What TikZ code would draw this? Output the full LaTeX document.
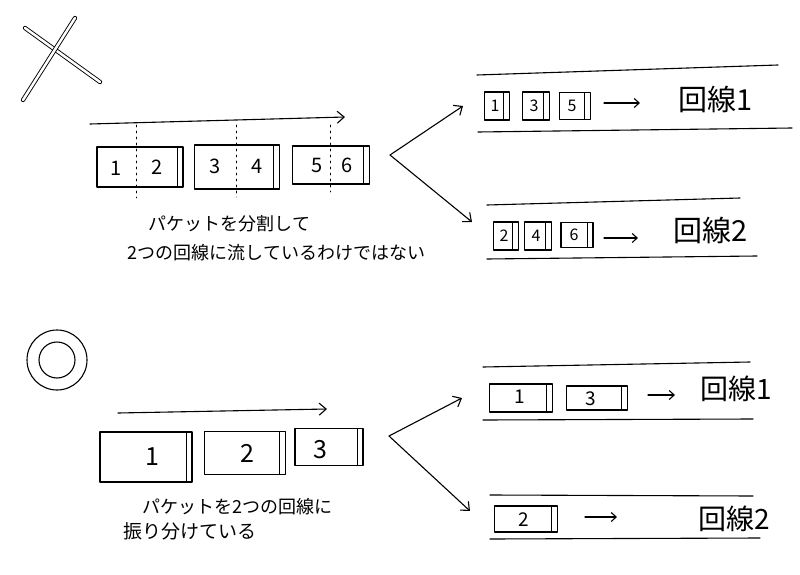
\documentclass[tikz,border=0pt]{standalone}
\usepackage{fontspec}
\setmainfont{Noto Sans CJK JP}
\usetikzlibrary{arrows.meta}
\begin{document}
\begin{tikzpicture}[x=1pt,y=-1pt,line width=1.1pt,line cap=round,line join=round,
  pkt/.style={draw,rectangle,inner sep=0pt,
    path picture={\draw[line width=0.9pt] ([xshift=-6pt]path picture bounding box.north east) -- ([xshift=-6pt]path picture bounding box.south east);}},
  num/.style={inner sep=0pt,font=\fontsize{20}{20}\selectfont},
  snum/.style={inner sep=0pt,font=\fontsize{16}{16}\selectfont},
  captext/.style={inner sep=0pt,anchor=west,font=\fontsize{18}{18}\selectfont},
  lanetext/.style={inner sep=0pt,anchor=west,font=\fontsize{29}{29}\selectfont},
  arr/.style={-{Straight Barb[length=7pt,width=12pt]}},
  sarr/.style={-{Straight Barb[length=5pt,width=9pt]}},
  dots/.style={line width=0.8pt,dash pattern=on 2pt off 4pt}]
\useasboundingbox (0,0) rectangle (800,575);

% ---------- X mark ----------
\draw[double,double distance=2.5pt,line width=0.9pt] (25,28) -- (100,82);
\draw[double,double distance=2.5pt,line width=0.9pt] (75,18) -- (23,100);

% ---------- top: split packets ----------
\coordinate (ta0) at (90,124);
\coordinate (ta1) at (345,117);
\draw[arr] (ta0) -- (ta1);

\node[pkt,minimum width=86pt,minimum height=40pt] (tb1) at (140,167) {};
\node[pkt,minimum width=85pt,minimum height=44pt] (tb2) at (237,167) {};
\node[pkt,minimum width=77pt,minimum height=38pt] (tb3) at (331,165) {};
\draw[dots] (136,125) -- (136,198);
\draw[dots] (236,125) -- (236,197);
\draw[dots] (330,125) -- (330,192);
\node[num] (l1) at (116,168) {1};
\node[num] (l2) at (157,167) {2};
\node[num] (l3) at (215,166) {3};
\node[num] (l4) at (257,166) {4};
\node[num] (l5) at (317,165) {5};
\node[num] (l6) at (347,165) {6};

\node[captext] (tc1) at (148,224) {パケットを分割して};
\node[captext] (tc2) at (127,253) {2つの回線に流しているわけではない};

\coordinate (tf) at (390,155);
\coordinate (tf1) at (463,106);
\coordinate (tf2) at (472,222);
\draw[arr] (tf) -- (tf1);
\draw[arr] (tf) -- (tf2);

% lane 1 (top)
\draw (477,75) -- (778,65);
\draw (478,132) -- (792,128);
\node[pkt,minimum width=25pt,minimum height=28pt] (p1) at (497,106) {};
\node[pkt,minimum width=27pt,minimum height=28pt] (p3) at (536,106) {};
\node[pkt,minimum width=31pt,minimum height=27pt] (p5) at (575,106) {};
\node[snum] at (495,106) {1};
\node[snum] at (534,106) {3};
\node[snum] at (572,106) {5};
\coordinate (a1s) at (604,103);
\coordinate (a1e) at (640,103);
\draw[sarr] (a1s) -- (a1e);
\node[lanetext] (k1) at (678,99) {回線1};

% lane 2 (top)
\draw (487,205) -- (740,198);
\draw (487,259) -- (757,256);
\node[pkt,minimum width=25pt,minimum height=28pt] (p2) at (506,236) {};
\node[pkt,minimum width=27pt,minimum height=28pt] (p4) at (538,236) {};
\node[pkt,minimum width=32pt,minimum height=25pt] (p6) at (577,235) {};
\node[snum] at (504,236) {2};
\node[snum] at (536,236) {4};
\node[snum] at (574,235) {6};
\coordinate (a2s) at (604,238);
\coordinate (a2e) at (638,238);
\draw[sarr] (a2s) -- (a2e);
\node[lanetext] (k2) at (673,230) {回線2};

% ---------- double circle ----------
\draw (57,360) circle (30);
\draw (57,360) circle (18);

% ---------- bottom: distribute packets ----------
\coordinate (ba0) at (118,413);
\coordinate (ba1) at (327,409);
\draw[arr] (ba0) -- (ba1);

\node[pkt,minimum width=92pt,minimum height=50pt] (bb1) at (146,457) {};
\node[pkt,minimum width=81pt,minimum height=43pt] (bb2) at (245,453) {};
\node[pkt,minimum width=68pt,minimum height=37pt] (bb3) at (329,447) {};
\node[num,font=\fontsize{25}{25}\selectfont] at (152,457) {1};
\node[num,font=\fontsize{25}{25}\selectfont] at (247,453) {2};
\node[num,font=\fontsize{25}{25}\selectfont] at (320,450) {3};

\node[captext] (bc1) at (142,507) {パケットを2つの回線に};
\node[captext,font=\fontsize{19}{19}\selectfont] (bc2) at (123,531) {振り分けている};

\coordinate (bf) at (389,436);
\coordinate (bf1) at (462,398);
\coordinate (bf2) at (470,511);
\draw[arr] (bf) -- (bf1);
\draw[arr] (bf) -- (bf2);

% lane 1 (bottom)
\draw (483,367) -- (750,362);
\draw (483,420) -- (753,419);
\node[pkt,minimum width=63pt,minimum height=28pt] (q1) at (521,398) {};
\node[pkt,minimum width=61pt,minimum height=24pt] (q3) at (597,398) {};
\node[snum,font=\fontsize{19}{19}\selectfont] at (520,397) {1};
\node[snum,font=\fontsize{19}{19}\selectfont] at (591,399) {3};
\coordinate (b1s) at (648,395);
\coordinate (b1e) at (675,395);
\draw[sarr] (b1s) -- (b1e);
\node[lanetext,font=\fontsize{28}{28}\selectfont] (m1) at (700,389) {回線1};

% lane 2 (bottom)
\draw (490,495) -- (753,496);
\draw (490,539) -- (760,538);
\node[pkt,minimum width=63pt,minimum height=26pt] (q2) at (526,519) {};
\node[snum,font=\fontsize{19}{19}\selectfont] at (524,520) {2};
\coordinate (b2s) at (585,517);
\coordinate (b2e) at (617,517);
\draw[sarr] (b2s) -- (b2e);
\node[lanetext,font=\fontsize{28}{28}\selectfont] (m2) at (698,519) {回線2};
\end{tikzpicture}
\end{document}
